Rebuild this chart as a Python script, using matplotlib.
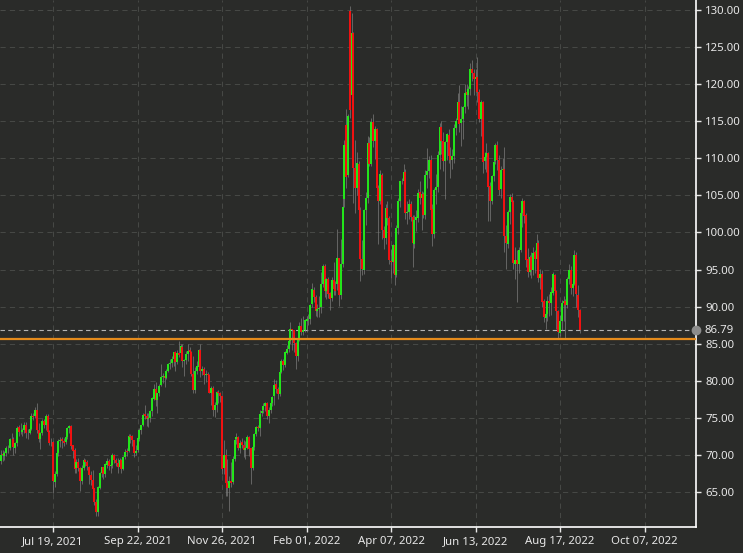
import numpy as np
import matplotlib
matplotlib.use("Agg")
import matplotlib.pyplot as plt
from matplotlib.transforms import blended_transform_factory

# daily bars (weekdays), Jun 08 2021 -> Sep 01 2022
opens = [
    # Jun 2021
    69.2, 70.1, 69.9, 70.3, 70.9, 70.9, 72.1, 72.2, 71.0, 71.6, 73.7, 73.1, 73.1, 73.3, 74.1, 72.9, 73.0,
    # Jul 2021
    73.5, 75.2, 75.2, 76.1, 73.4, 72.2, 72.9, 74.6, 74.1, 75.3, 73.1, 71.7, 71.8, 66.4, 67.4, 70.3, 71.9, 72.1, 71.9, 71.7, 72.4, 73.6,
    # Aug 2021
    73.9, 71.3, 70.6, 68.2, 69.1, 68.3, 66.5, 68.3, 69.3, 69.1, 68.4, 67.3, 66.6, 65.5, 63.7, 62.3, 65.6, 67.5, 68.4, 67.4, 68.7, 69.2,
    # Sep 2021
    68.5, 68.6, 70.0, 69.3, 68.9, 68.4, 69.3, 68.1, 69.7, 70.5, 70.5, 72.6, 72.6, 72.0, 70.3, 70.6, 72.2, 73.3, 74.0, 75.5, 75.3, 74.8,
    # Oct 2021
    75.0, 75.9, 77.6, 78.9, 77.4, 78.3, 79.4, 80.5, 80.6, 80.4, 81.3, 82.3, 82.4, 83.0, 83.9, 82.5, 83.8, 83.8, 84.6, 82.7, 82.8,
    # Nov 2021
    83.6, 84.1, 83.9, 80.9, 78.8, 81.3, 81.9, 84.2, 81.3, 81.6, 80.8, 80.9, 80.8, 78.4, 79.0, 76.1, 76.8, 78.5, 78.4, 77.9, 68.2, 70.0,
    # Dec 2021
    66.2, 65.6, 66.5, 66.3, 69.5, 72.1, 72.4, 70.9, 71.7, 71.3, 70.7, 70.9, 72.4, 70.9, 68.2, 71.1, 72.8, 73.8, 73.6, 75.6, 76.0, 76.6, 77.0,
    # Jan 2022
    75.2, 76.1, 77.0, 77.9, 79.5, 78.9, 78.2, 81.2, 82.6, 82.1, 83.8, 84.3, 85.4, 87.0, 86.9, 85.1, 83.3, 85.6, 87.4, 86.6, 86.8,
    # Feb 2022
    88.0, 88.2, 88.3, 90.3, 92.3, 91.3, 89.4, 89.7, 89.9, 93.1, 95.5, 92.1, 93.7, 91.8, 91.1, 93.6, 92.4, 93.0, 96.5, 91.6,
    # Mar 2022
    95.7, 104.5, 114.5, 107.7, 129.8, 118.5, 126.9, 108.7, 106.0, 109.3, 103.0, 96.4, 95.0, 103.0, 104.7, 112.1, 109.3, 114.9, 112.3, 113.9, 106.0, 104.2, 107.8,
    # Apr 2022
    100.3, 99.3, 103.3, 102.0, 96.2, 96.0, 98.3, 94.3, 100.6, 104.3, 107.0, 106.9, 108.2, 102.6, 102.8, 103.8, 102.1, 98.5, 101.7, 102.0, 105.4,
    # May 2022
    104.7, 105.2, 102.4, 107.8, 108.3, 109.8, 103.1, 99.8, 105.7, 106.1, 110.5, 114.2, 112.4, 109.6, 112.2, 113.2, 110.3, 109.8, 110.3, 114.1, 115.1, 117.6,
    # Jun 2022
    114.7, 115.3, 116.9, 118.9, 118.5, 119.4, 122.1, 121.5, 120.7, 120.9, 118.9, 115.3, 117.6, 109.6, 110.2, 110.7, 106.2, 104.3, 107.6, 109.6, 111.8, 109.8,
    # Jul 2022
    105.8, 108.4, 108.5, 99.5, 98.5, 102.7, 104.8, 104.1, 95.8, 96.3, 95.8, 97.6, 102.6, 104.2, 102.3, 96.4, 94.7, 96.7, 95.0, 97.3, 96.4,
    # Aug 2022 + Sep 01
    98.6, 93.9, 94.4, 90.7, 88.5, 89.0, 90.8, 90.5, 91.9, 94.3, 92.1, 89.4, 86.5, 88.1, 90.5, 90.8, 90.2, 93.7, 94.9, 92.5, 93.1, 97.0, 91.6, 89.5,
]
highs = [
    70.6, 70.7, 70.5, 71.2, 71.4, 72.3, 72.9, 72.4, 71.8, 73.9, 74.0, 74.3, 73.6, 74.5, 74.4, 73.5, 74.0,
    75.7, 75.7, 76.4, 77.0, 74.3, 73.1, 74.8, 74.9, 75.5, 75.5, 73.3, 72.3, 71.9, 67.8, 70.5, 72.2, 72.4, 72.4, 72.3, 72.6, 73.8, 74.0,
    74.0, 71.4, 70.9, 69.4, 69.6, 68.4, 68.6, 69.6, 69.5, 69.3, 68.5, 67.8, 67.9, 65.6, 64.0, 65.8, 67.7, 68.4, 68.4, 68.9, 69.6, 69.4,
    69.0, 70.2, 70.1, 69.6, 69.6, 69.6, 69.4, 69.9, 70.8, 71.0, 72.8, 72.8, 72.7, 72.0, 71.4, 72.5, 73.6, 74.1, 75.6, 76.7, 75.6, 75.6,
    76.1, 77.8, 79.5, 79.8, 78.4, 79.5, 82.2, 81.1, 81.0, 81.6, 82.4, 83.0, 83.3, 83.9, 84.0, 84.1, 85.4, 85.0, 84.9, 83.0, 84.0,
    84.9, 84.6, 84.0, 83.4, 81.8, 82.6, 84.3, 84.9, 82.0, 81.9, 81.5, 81.2, 80.9, 79.3, 79.3, 77.1, 78.6, 78.8, 78.5, 78.0, 72.0, 70.8,
    69.4, 67.1, 69.0, 69.8, 72.4, 72.9, 72.5, 72.0, 72.3, 72.0, 71.9, 72.7, 72.5, 70.9, 71.4, 73.0, 73.9, 74.0, 76.0, 76.6, 77.0, 77.1, 77.1,
    76.5, 77.6, 78.0, 80.2, 80.1, 79.2, 81.4, 82.9, 82.9, 84.0, 84.8, 86.0, 87.9, 87.0, 86.9, 85.2, 85.7, 87.9, 88.5, 88.8, 88.3,
    88.8, 89.0, 90.4, 93.2, 92.7, 91.6, 90.3, 91.4, 94.7, 95.8, 95.8, 93.9, 94.0, 92.0, 94.0, 96.0, 93.5, 100.5, 96.6, 99.1,
    106.8, 112.5, 116.6, 116.0, 130.5, 129.6, 127.0, 112.5, 110.9, 109.7, 103.4, 99.0, 103.2, 105.5, 113.0, 112.9, 115.4, 116.0, 114.3, 114.1, 106.4, 108.4, 108.0,
    100.9, 103.9, 104.3, 102.2, 97.8, 98.4, 98.5, 101.0, 104.6, 106.9, 107.4, 109.2, 108.5, 104.3, 104.5, 104.2, 102.3, 102.3, 103.0, 105.8, 107.0,
    105.6, 105.4, 108.4, 111.4, 110.3, 110.4, 103.9, 106.0, 107.9, 111.0, 114.8, 115.0, 113.6, 112.4, 113.4, 113.9, 111.5, 111.2, 114.6, 115.4, 118.8, 119.9,
    117.1, 117.1, 120.0, 120.0, 119.7, 122.8, 123.2, 122.0, 122.1, 123.7, 119.4, 117.9, 117.7, 110.9, 112.0, 110.8, 106.8, 107.7, 110.1, 112.0, 112.4, 110.4,
    109.0, 110.0, 111.5, 101.0, 103.0, 105.2, 105.3, 104.4, 98.0, 97.6, 98.0, 102.9, 104.7, 104.4, 102.6, 97.9, 97.0, 97.4, 98.0, 97.6, 99.8,
    99.0, 95.1, 94.9, 91.0, 89.4, 91.4, 91.7, 92.7, 94.7, 94.4, 92.3, 89.5, 88.9, 90.9, 91.4, 91.0, 94.0, 95.7, 95.5, 93.6, 97.6, 97.3, 92.9, 89.7,
]
lows = [
    68.8, 69.2, 69.3, 69.8, 70.2, 70.6, 71.4, 70.0, 70.2, 71.2, 72.6, 72.8, 72.6, 73.0, 72.3, 72.2, 72.8,
    73.3, 74.7, 75.0, 73.0, 71.7, 70.8, 72.7, 73.6, 73.4, 72.8, 71.3, 71.2, 64.8, 65.7, 67.1, 69.9, 71.1, 71.0, 71.2, 71.5, 72.1, 73.0,
    70.8, 69.6, 67.6, 67.5, 67.8, 65.2, 66.1, 67.9, 68.5, 68.0, 66.1, 66.0, 65.0, 63.3, 61.7, 61.8, 65.4, 67.0, 66.7, 67.0, 68.2, 67.9,
    67.6, 68.3, 68.9, 68.5, 67.6, 68.2, 67.6, 67.9, 69.4, 69.8, 70.4, 71.6, 71.2, 69.7, 70.0, 70.4, 71.9, 72.8, 73.9, 74.8, 73.9, 73.8,
    74.4, 75.2, 77.4, 76.6, 75.6, 77.9, 79.3, 79.7, 79.2, 80.2, 81.2, 81.6, 81.9, 82.0, 81.3, 82.2, 83.2, 83.6, 81.9, 80.6, 82.3,
    82.7, 82.9, 80.6, 78.3, 78.3, 80.9, 81.6, 80.5, 80.8, 79.6, 79.8, 79.7, 78.3, 76.8, 75.3, 75.1, 75.8, 77.0, 77.1, 67.4, 67.4, 64.4,
    64.4, 62.4, 65.7, 66.1, 69.2, 71.5, 70.6, 70.3, 70.9, 69.7, 69.5, 70.8, 69.8, 66.1, 68.0, 70.7, 72.6, 73.2, 72.6, 75.3, 75.6, 75.9, 74.9,
    74.3, 75.7, 76.6, 76.8, 78.4, 77.6, 78.0, 81.0, 81.5, 81.8, 83.6, 83.9, 84.9, 84.2, 83.9, 81.6, 82.6, 85.4, 86.2, 86.2, 86.6,
    86.6, 87.5, 87.6, 89.9, 90.6, 88.8, 88.6, 88.6, 89.1, 92.7, 91.3, 91.0, 91.2, 89.6, 90.8, 91.6, 91.6, 92.2, 90.1, 91.0,
    95.4, 103.5, 106.0, 107.5, 115.5, 117.6, 104.0, 102.6, 105.0, 99.8, 93.5, 94.2, 94.4, 101.0, 104.0, 108.9, 109.0, 111.5, 109.9, 104.6, 98.4, 103.8, 99.1,
    97.8, 98.5, 101.0, 95.7, 93.9, 94.6, 92.9, 94.0, 99.8, 103.4, 106.5, 106.4, 101.8, 101.2, 101.8, 101.5, 95.3, 97.9, 100.2, 101.4, 103.9,
    100.3, 101.9, 101.8, 106.0, 107.3, 102.6, 98.2, 99.2, 103.8, 105.5, 108.5, 110.6, 108.3, 104.5, 109.8, 109.4, 107.3, 108.6, 109.4, 113.2, 114.8, 113.6,
    111.7, 112.6, 116.1, 117.1, 116.7, 118.6, 120.4, 118.6, 118.9, 117.6, 114.9, 113.0, 108.0, 108.6, 108.2, 101.5, 101.6, 103.9, 106.9, 109.2, 108.4, 105.0,
    104.6, 107.7, 97.4, 95.1, 97.9, 101.2, 101.9, 95.1, 93.7, 90.6, 94.5, 97.4, 100.8, 101.3, 95.3, 94.0, 94.3, 93.9, 94.2, 94.6, 95.9,
    93.3, 92.4, 90.0, 87.9, 87.0, 88.0, 88.8, 88.9, 91.5, 91.5, 87.0, 85.7, 86.1, 86.9, 88.1, 85.8, 89.8, 93.1, 91.7, 91.4, 92.9, 90.0, 88.6, 86.4,
]
closes = [
    70.05, 69.96, 70.29, 70.91, 70.88, 72.12, 72.15, 71.04, 71.64, 73.66, 73.06, 73.08, 73.30, 74.05, 72.91, 72.98, 73.47,
    75.23, 75.16, 76.1, 73.37, 72.20, 72.94, 74.56, 74.10, 75.25, 73.13, 71.65, 71.81, 66.42, 67.42, 70.30, 71.91, 72.07, 71.91, 71.65, 72.39, 73.62, 73.95,
    71.26, 70.56, 68.15, 69.09, 68.28, 66.48, 68.29, 69.25, 69.09, 68.44, 67.29, 66.59, 65.46, 63.69, 62.32, 65.64, 67.54, 68.36, 67.42, 68.74, 69.21, 68.50,
    68.59, 69.99, 69.29, 68.9, 68.35, 69.30, 68.14, 69.72, 70.45, 70.46, 72.61, 72.4, 71.97, 70.29, 70.56, 72.23, 73.30, 73.98, 75.45, 75.29, 74.83, 75.03,
    75.88, 77.62, 78.93, 77.43, 78.30, 79.35, 80.52, 80.64, 80.44, 81.31, 82.28, 82.44, 82.96, 83.87, 82.50, 83.76, 83.5, 84.65, 82.66, 82.81, 83.57,
    84.05, 83.91, 80.86, 78.81, 81.27, 81.93, 84.15, 81.34, 81.59, 80.79, 80.88, 80.76, 78.36, 79.01, 76.10, 76.75, 78.50, 78.39, 77.9, 68.15, 69.95, 66.18,
    65.57, 66.50, 66.26, 69.49, 72.05, 72.36, 70.94, 71.67, 71.29, 70.73, 70.87, 72.38, 70.86, 68.23, 71.12, 72.76, 73.79, 73.6, 75.57, 75.98, 76.56, 76.99, 75.21,
    76.08, 76.99, 77.85, 79.46, 78.90, 78.23, 81.22, 82.64, 82.12, 83.82, 84.3, 85.43, 86.96, 86.90, 85.14, 83.31, 85.60, 87.35, 86.61, 86.82, 88.15,
    88.35, 88.26, 90.27, 92.31, 91.32, 89.36, 89.66, 89.88, 93.10, 95.46, 92.07, 93.66, 91.76, 91.07, 93.6, 92.35, 92.10, 96.5, 91.59, 95.72,
    103.41, 111.8, 107.5, 115.68, 116.5, 126.9, 108.70, 106.02, 109.33, 103.01, 96.44, 95.04, 102.98, 104.70, 112.12, 109.27, 114.93, 112.34, 113.90, 105.96, 104.24, 107.82, 100.28,
    99.27, 103.28, 101.96, 96.23, 96.03, 98.26, 94.29, 100.60, 104.25, 106.95, 106.9, 108.21, 102.56, 102.75, 103.79, 102.07, 98.54, 101.70, 102.02, 105.36, 104.69,
    105.17, 102.41, 107.81, 108.26, 109.77, 103.09, 99.76, 105.71, 106.13, 110.49, 114.20, 112.40, 109.59, 112.21, 113.23, 110.29, 109.77, 110.33, 114.09, 115.07, 117.6, 114.67,
    115.26, 116.87, 118.87, 118.50, 119.41, 122.11, 121.51, 120.67, 120.93, 118.93, 115.31, 117.59, 109.56, 110.2, 110.65, 106.19, 104.27, 107.62, 109.57, 111.76, 109.78, 105.76,
    108.43, 108.5, 99.50, 98.53, 102.73, 104.79, 104.09, 95.84, 96.30, 95.78, 97.59, 102.60, 104.22, 102.26, 96.35, 94.70, 96.70, 94.98, 97.26, 96.42, 98.62,
    93.89, 94.42, 90.66, 88.54, 89.01, 90.76, 90.50, 91.93, 94.34, 92.09, 89.41, 86.53, 88.11, 90.50, 90.77, 90.23, 93.74, 94.89, 92.52, 93.06, 97.01, 91.64, 89.55, 86.79,
]

tick_labels = ["Jul 19, 2021", "Sep 22, 2021", "Nov 26, 2021", "Feb 01, 2022",
               "Apr 07, 2022", "Jun 13, 2022", "Aug 17, 2022", "Oct 07, 2022"]
tick_bars = [29, 76, 123, 170, 217, 264, 311, 358]
y_ticks = [65, 70, 75, 80, 85, 90, 95, 100, 105, 110, 115, 120, 125, 130]
last_price = 86.79
support_level = 85.7

o = np.array(opens); h = np.array(highs); l = np.array(lows); c = np.array(closes)
x = np.arange(len(c))

bg = "#2a2b29"
up_col = "#22ea1a"
down_col = "#f51010"
txt_col = "#e8e8e8"
grid_col = "#464845"
fsize = 8.2

fig = plt.figure(figsize=(7.43, 5.53), dpi=100, facecolor=bg)
ax = fig.add_axes([0, 26/553, 696/743, 527/553])
ax.set_facecolor(bg)

# grid
for yv in y_ticks:
    ax.axhline(yv, color=grid_col, lw=0.75, ls=(0, (5, 4)), zorder=0)
for xv in tick_bars:
    ax.axvline(xv, color=grid_col, lw=0.75, ls=(0, (5, 4)), zorder=0)

# candles
cols = np.where(c >= o, up_col, down_col)
ax.vlines(x, l, h, colors="#7c7c7c", lw=0.5, zorder=2)
ax.vlines(x, np.minimum(o, c), np.maximum(o, c), colors=cols, lw=1.4, zorder=3)

# last price / support
ax.axhline(last_price, color="#b5b5b5", lw=0.8, ls=(0, (4, 3)), zorder=1)
ax.axhline(support_level, color="#e58b1c", lw=1.6, zorder=4)

trans = blended_transform_factory(ax.transAxes, ax.transData)
ax.plot([1.0], [last_price], "o", color="#8c8c8c", ms=6, transform=trans, clip_on=False, zorder=6)
ax.text(1.0 + 8/696, last_price, f"{last_price:.2f}", transform=trans, color=txt_col,
        fontsize=fsize, family="Noto Sans", va="center", ha="left")

ax.set_xlim(-0.5, 386.6)
ax.set_ylim(60.28, 131.35)

ax.set_xticks(tick_bars)
ax.set_xticklabels(tick_labels)
ax.set_yticks(y_ticks)
ax.set_yticklabels([f"{v:.2f}" for v in y_ticks])
ax.yaxis.tick_right()
ax.tick_params(axis="both", colors=txt_col, labelsize=fsize, length=3.5, width=1, pad=3)
for lab in ax.get_xticklabels() + ax.get_yticklabels():
    lab.set_family("Noto Sans")

for side in ["top", "left"]:
    ax.spines[side].set_visible(False)
for side in ["right", "bottom"]:
    ax.spines[side].set_color("white")
    ax.spines[side].set_linewidth(1.2)

fig.savefig("out.png", dpi=100, facecolor=bg)
